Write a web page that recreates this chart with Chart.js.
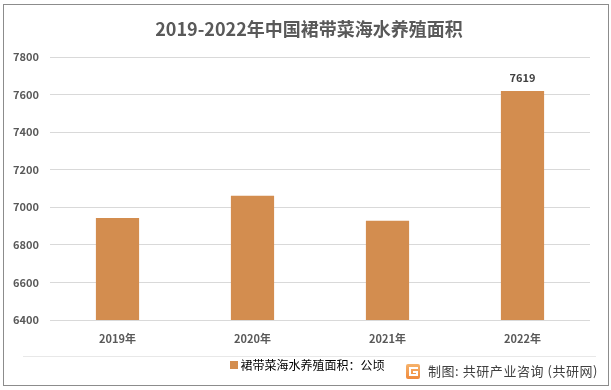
<!DOCTYPE html>
<html><head><meta charset="utf-8">
<script src="https://cdn.jsdelivr.net/npm/chart.js@4"></script>
<style>html,body{margin:0;padding:0;background:#fff}#w{position:relative;width:611px;height:390px}canvas{display:block}</style>
</head><body><div id="w"><canvas id="c" width="611" height="390"></canvas></div>
<script>
const categories = ['2019年','2020年','2021年','2022年'];
const areaValues = [6943, 7062, 6928, 7619];
const labelledYear = '2022年';
const seriesName = '裙带菜海水养殖面积：公顷';
const chartTitle = '2019-2022年中国裙带菜海水养殖面积';
const creditText = '制图: 共研产业咨询 (共研网)';
const FONT = '"Noto Sans CJK SC","Noto Sans",sans-serif';
const TXT = '#595959';
const BAR = '#d38d4f';

const decor = {
  id:'decor',
  afterLayout(c){
    c.titleBlock.left+=14; c.titleBlock.right+=14;
    c.legend.left+=14; c.legend.right+=14;
  },
  beforeDraw(c){
    const x=c.ctx; x.save();
    x.fillStyle='#fff'; x.fillRect(0,0,611,390);
    x.strokeStyle='#8c8c8c'; x.lineWidth=1;
    x.strokeRect(3.5,4.5,605,381);
    x.strokeStyle='#e8e8e8';
    x.beginPath(); x.moveTo(23,356.5); x.lineTo(596,356.5); x.stroke();
    x.restore();
  },
  afterDraw(c){
    const x=c.ctx; x.save();
    const i=categories.indexOf(labelledYear);
    const el=c.getDatasetMeta(0).data[i];
    x.fillStyle='#404040'; x.font='bold 11px '+FONT; x.textAlign='center'; x.textBaseline='alphabetic';
    x.fillText(String(areaValues[i]), el.x, el.y-9);
    const g=x.createLinearGradient(0,364,0,379);
    g.addColorStop(0,'#f6b26b'); g.addColorStop(1,'#f08a3c');
    x.fillStyle=g; x.beginPath(); x.roundRect(406,364,14,15,2); x.fill();
    x.fillStyle='#fff';
    x.fillRect(409,367,9,2); x.fillRect(409,367,2,9); x.fillRect(409,374,9,2); x.fillRect(413,371,5,2); x.fillRect(416,371,2,5);
    x.fillStyle='#404040'; x.font='13px '+FONT; x.textAlign='left'; x.textBaseline='middle';
    x.letterSpacing='0.55px';
    x.fillText(creditText, 428, 371);
    x.restore();
  }
};

new Chart(document.getElementById('c'),{
  type:'bar',
  data:{labels:categories,datasets:[{label:seriesName,data:areaValues,backgroundColor:BAR,borderWidth:0,categoryPercentage:1,barPercentage:0.32}]},
  plugins:[decor],
  options:{
    responsive:false,animation:false,devicePixelRatio:1,
    layout:{padding:{left:0,right:21,top:14,bottom:9}},
    plugins:{
      tooltip:{enabled:false},
      title:{display:true,text:chartTitle,color:TXT,font:{family:FONT,size:18,weight:'bold'},padding:{top:4,bottom:17.4}},
      legend:{position:'bottom',labels:{color:'#505050',font:{family:FONT,size:12},boxWidth:1,boxHeight:1,padding:6,
        generateLabels(){return [{text:seriesName,fillStyle:BAR,strokeStyle:BAR,lineWidth:7,datasetIndex:0}];}}}
    },
    scales:{
      x:{grid:{display:false},border:{display:false},ticks:{color:TXT,font:{family:FONT,size:11,weight:'bold'},padding:4,maxRotation:0},afterFit(s){s.height=33;}},
      y:{min:6400,max:7800,grid:{color:'#d9d9d9',lineWidth:1,drawTicks:false},border:{display:false},
         ticks:{stepSize:200,color:TXT,font:{family:FONT,size:11,weight:'bold'},padding:11,callback:v=>String(v)},afterFit(s){s.width=50;}}
    }
  }
});
</script></body></html>
